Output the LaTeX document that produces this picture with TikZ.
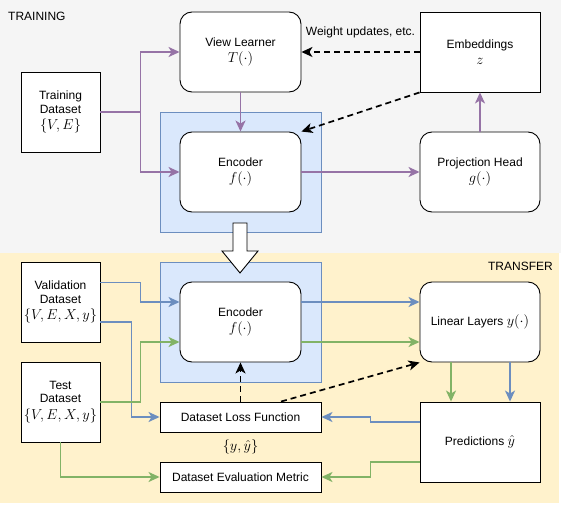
\documentclass[tikz,border=0pt]{standalone}
\usepackage{fontspec}
\setmainfont{Liberation Sans}
\usetikzlibrary{arrows.meta,calc}
\definecolor{bggray}{HTML}{F5F5F5}
\definecolor{bgyellow}{HTML}{FFF2CC}
\definecolor{hlfill}{HTML}{DAE8FC}
\definecolor{hldraw}{HTML}{6C8EBF}
\definecolor{purp}{HTML}{9673A6}
\definecolor{blu}{HTML}{6C8EBF}
\definecolor{grn}{HTML}{82B366}
\newcommand{\mth}[1]{{\fontsize{14}{14}\selectfont$#1$}}
\tikzset{
  box/.style={draw=black, line width=0.9pt, fill=white, inner sep=0pt, align=center,
    font=\fontsize{12}{13.5}\selectfont},
  sqbox/.style={box, minimum width=#1, minimum height=80pt},
  rbox/.style={box, rounded corners=12pt, minimum width=121pt, minimum height=80pt},
  widebox/.style={box, minimum width=161pt, minimum height=30pt},
  hl/.style={fill=hlfill, draw=hldraw, line width=0.8pt},
  conn/.style={line width=1.7pt, -{Stealth[length=11pt,width=10pt,inset=3pt]}},
  purpc/.style={conn, draw=purp, color=purp},
  bluc/.style={conn, draw=blu, color=blu},
  grnc/.style={conn, draw=grn, color=grn},
  dashc/.style={line width=1.7pt, dash pattern=on 6pt off 4pt,
    -{Stealth[length=11pt,width=10pt,inset=3pt]}},
  lbl/.style={font=\fontsize{12}{14}\selectfont, inner sep=0pt},
}
\begin{document}
\begin{tikzpicture}[x=1pt,y=-1pt]
\useasboundingbox (0,0) rectangle (561,505);
% backgrounds
\fill[bggray] (0,0) rectangle (561,253);
\fill[bgyellow] (0,253) rectangle (559,503);
\node[lbl, anchor=west] (trainlbl) at (8,16) {TRAINING};
\node[lbl, anchor=east] (translbl) at (553,266) {TRANSFER};
% highlight rectangles
\draw[hl] (160,112) rectangle (321,232);
\draw[hl] (160,262) rectangle (321,382);
% big hollow arrow
\draw[fill=white, line width=0.9pt] (233,223) -- (247,223) -- (247,251) -- (258,251) -- (240,273) -- (222,251) -- (233,251) -- cycle;
% training nodes
\node[rbox] (vl) at (240.5,52) {View Learner\\[3pt]\mth{T(\cdot)}};
\node[sqbox=79pt] (td) at (60.5,112) {Training\\Dataset\\[3pt]\mth{\{V,E\}}};
\node[rbox] (enc1) at (240.5,172) {Encoder\\[3pt]\mth{f(\cdot)}};
\node[sqbox=120pt] (emb) at (480,52) {Embeddings\\[3pt]\mth{z}};
\node[rbox, minimum width=120pt] (ph) at (480,172) {Projection Head\\[3pt]\mth{g(\cdot)}};
% transfer nodes
\node[rbox] (enc2) at (240.5,322) {Encoder\\[3pt]\mth{f(\cdot)}};
\node[sqbox=79pt] (val) at (60.5,302) {Validation\\Dataset\\[3pt]\mth{\{V,E,X,y\}}};
\node[sqbox=79pt] (test) at (60.5,402) {Test\\Dataset\\[3pt]\mth{\{V,E,X,y\}}};
\node[widebox] (dlf) at (240.5,417) {Dataset Loss Function};
\node[widebox] (dem) at (240.5,477) {Dataset Evaluation Metric};
\node[rbox, minimum width=120pt] (ll) at (480,322) {Linear Layers \mth{y(\cdot)}};
\node[sqbox=120pt] (pred) at (480,442) {Predictions \mth{\hat{y}}};
\node[lbl] (yyhat) at (240.5,447) {\mth{\{y,\hat{y}\}}};
% training connectors
\draw[purpc] (td.east) -- ++(40,0) |- (vl.west);
\draw[purpc] (td.east) -- ++(40,0) |- (enc1.west);
\draw[purpc] (vl.south) -- (enc1.north);
\draw[purpc] (enc1.east) -- (ph.west);
\draw[purpc] (ph.north) -- (emb.south);
\draw[dashc] (emb.west) -- node[lbl, above=13pt, pos=0.5] (wu) {Weight updates, etc.} (vl.east);
\draw[dashc] (emb.south west) -- (enc1.north east);
% transfer connectors
\draw[bluc] ($(val.north east)+(0,21)$) -- ++(40,0) |- ($(enc2.west)+(0,-20)$);
\draw[bluc] ($(val.east)+(0,20)$) -- ++(31,0) |- (dlf.west);
\draw[grnc] (test.east) -- ++(40,0) |- ($(enc2.west)+(0,20)$);
\draw[grnc] (test.south) |- (dem.west);
\draw[bluc] ($(enc2.east)+(0,-20)$) -- ($(ll.west)+(0,-20)$);
\draw[grnc] ($(enc2.east)+(0,20)$) -- ($(ll.west)+(0,20)$);
\draw[grnc] ($(ll.south)+(-29,0)$) -- ($(pred.north)+(-29,0)$);
\draw[bluc] ($(ll.south)+(30,0)$) -- ($(pred.north)+(30,0)$);
\draw[bluc] ($(pred.west)+(0,-20)$) -- ++(-49,0) |- (dlf.east);
\draw[grnc] ($(pred.west)+(0,20)$) -- ++(-49,0) |- (dem.east);
\draw[dashc] (dlf.north) -- (enc2.south);
\draw[dashc] ($(dlf.north)!0.5!(dlf.north east)$) -- (ll.south west);
\end{tikzpicture}
\end{document}
